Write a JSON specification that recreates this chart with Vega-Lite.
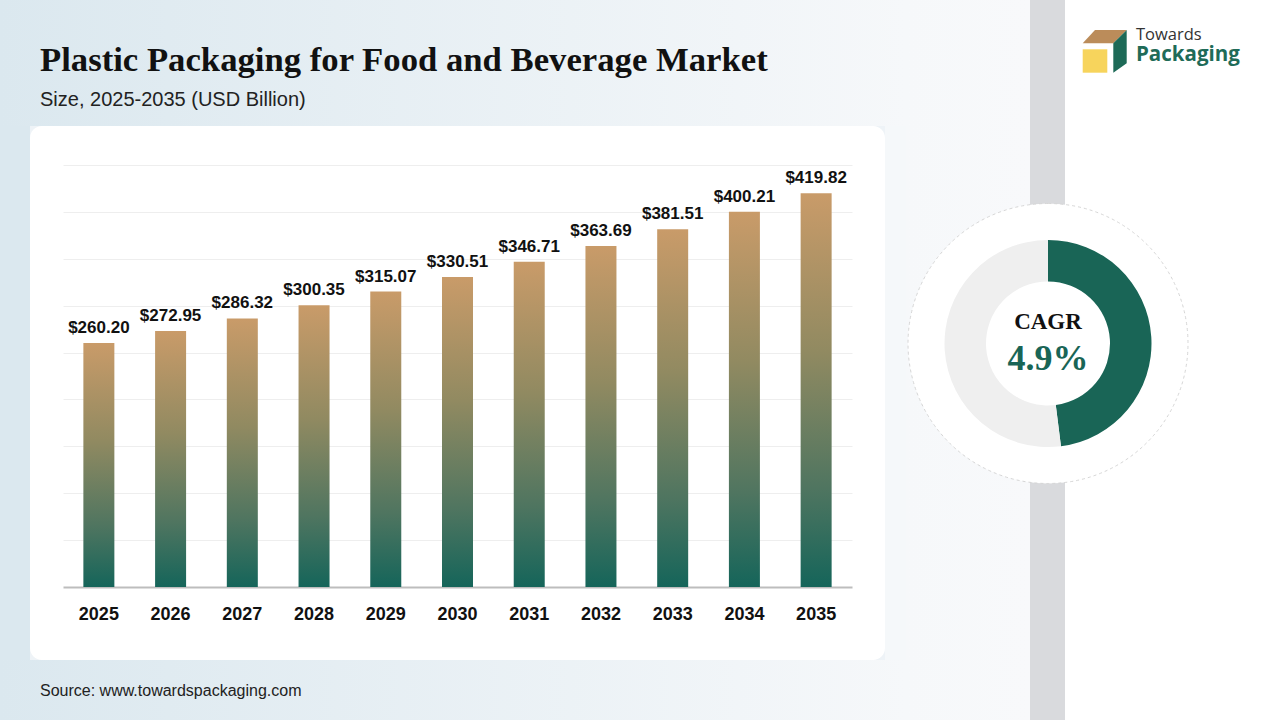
{
  "$schema": "https://vega.github.io/schema/vega-lite/v6.json",
  "background": "#eef3f7",
  "padding": 0,
  "spacing": 0,
  "config": {"view": {"stroke": null}},
  "hconcat": [
    {
      "vconcat": [
        {
          "width": 906,
          "height": 126,
          "view": {
            "stroke": null,
            "fill": {
              "gradient": "linear",
              "x1": 0, "y1": 0, "x2": 1, "y2": 0,
              "stops": [
                {"offset": 0, "color": "#dbe8ef"},
                {"offset": 1, "color": "#f6f8fa"}
              ]
            }
          },
          "data": {"values": [{"title": "Plastic Packaging for Food and Beverage Market", "subtitle": "Size, 2025-2035 (USD Billion)"}]},
          "layer": [
            {
              "mark": {"type": "text", "align": "left", "baseline": "alphabetic", "dx": -413, "dy": 7.5, "font": "Liberation Serif", "fontSize": 34.7, "fontWeight": "bold", "color": "#111111"},
              "encoding": {"text": {"field": "title"}}
            },
            {
              "mark": {"type": "text", "align": "left", "baseline": "alphabetic", "dx": -413, "dy": 43, "font": "Liberation Sans", "fontSize": 20, "color": "#222222"},
              "encoding": {"text": {"field": "subtitle"}}
            }
          ]
        },
        {
          "hconcat": [
            {
              "width": 30,
              "height": 534,
              "view": {"fill": "#dbe8ef", "stroke": null},
              "data": {"values": []},
              "mark": "point"
            },
            {
              "width": 855,
              "height": 534,
              "view": {"fill": "#ffffff", "stroke": null, "cornerRadius": 12},
              "data": {
                "values": [
                  {"year": "2025", "value": 260.20},
                  {"year": "2026", "value": 272.95},
                  {"year": "2027", "value": 286.32},
                  {"year": "2028", "value": 300.35},
                  {"year": "2029", "value": 315.07},
                  {"year": "2030", "value": 330.51},
                  {"year": "2031", "value": 346.71},
                  {"year": "2032", "value": 363.69},
                  {"year": "2033", "value": 381.51},
                  {"year": "2034", "value": 400.21},
                  {"year": "2035", "value": 419.82}
                ]
              },
              "encoding": {
                "x": {
                  "field": "year",
                  "type": "ordinal",
                  "scale": {"range": [33, 822], "paddingInner": 0, "paddingOuter": 0},
                  "axis": {
                    "title": null,
                    "offset": -73,
                    "domainColor": "#bdbdbd",
                    "domainWidth": 2,
                    "ticks": false,
                    "tickSize": 0,
                    "labelPadding": 18,
                    "labelFont": "Liberation Sans",
                    "labelFontSize": 18,
                    "labelFontWeight": "bold",
                    "labelColor": "#111111",
                    "labelAngle": 0,
                    "grid": false
                  }
                },
                "y": {
                  "field": "value",
                  "type": "quantitative",
                  "scale": {"domain": [0, 450], "range": [461, 39], "nice": false},
                  "axis": {
                    "values": [50, 100, 150, 200, 250, 300, 350, 400, 450],
                    "grid": true,
                    "gridColor": "#eeeeee",
                    "gridWidth": 1,
                    "domain": false,
                    "ticks": false,
                    "labels": false,
                    "title": null
                  }
                }
              },
              "layer": [
                {
                  "mark": {
                    "type": "bar",
                    "size": 31,
                    "color": {
                      "gradient": "linear",
                      "x1": 0, "y1": 0, "x2": 0, "y2": 1,
                      "stops": [
                        {"offset": 0, "color": "#c99b69"},
                        {"offset": 0.4, "color": "#918a61"},
                        {"offset": 0.75, "color": "#4f7560"},
                        {"offset": 1, "color": "#15655a"}
                      ]
                    }
                  }
                },
                {
                  "mark": {
                    "type": "text",
                    "dy": -10,
                    "baseline": "alphabetic",
                    "font": "Liberation Sans",
                    "fontSize": 17,
                    "fontWeight": "bold",
                    "color": "#111111"
                  },
                  "encoding": {"text": {"field": "value", "type": "quantitative", "format": "$,.2f"}}
                }
              ]
            },
            {
              "width": 21,
              "height": 534,
              "view": {"fill": "#f5f8fa", "stroke": null},
              "data": {"values": []},
              "mark": "point"
            }
          ],
          "spacing": 0
        },
        {
          "width": 906,
          "height": 60,
          "view": {
            "stroke": null,
            "fill": {
              "gradient": "linear",
              "x1": 0, "y1": 0, "x2": 1, "y2": 0,
              "stops": [
                {"offset": 0, "color": "#dbe8ef"},
                {"offset": 1, "color": "#f6f8fa"}
              ]
            }
          },
          "data": {"values": [{"source": "Source: www.towardspackaging.com"}]},
          "mark": {"type": "text", "align": "left", "baseline": "alphabetic", "dx": -413, "dy": 5.7, "font": "Liberation Sans", "fontSize": 16, "color": "#222222"},
          "encoding": {"text": {"field": "source"}}
        }
      ],
      "spacing": 0
    },
    {
      "vconcat": [
        {
          "width": 374,
          "height": 92,
          "view": {
            "stroke": null,
            "fill": {
              "gradient": "linear",
              "x1": 0, "y1": 0, "x2": 1, "y2": 0,
              "stops": [
                {"offset": 0, "color": "#f6f8fa"},
                {"offset": 0.3316, "color": "#f8f9fb"},
                {"offset": 0.3316, "color": "#d9dadd"},
                {"offset": 0.4251, "color": "#d9dadd"},
                {"offset": 0.4251, "color": "#ffffff"},
                {"offset": 1, "color": "#ffffff"}
              ]
            }
          },
          "data": {"values": [{"brand1": "Towards", "brand2": "Packaging"}]},
          "layer": [
            {"mark": {"type": "point", "shape": "M2,-16L33.7,-16L20.3,-2.7L-10.3,-2.7Z", "size": 4, "filled": true, "fill": "#bb8c5a", "opacity": 1, "strokeWidth": 0}},
            {"mark": {"type": "point", "shape": "M-10.3,3.3L14.3,3.3L14.3,26.7L-10.3,26.7Z", "size": 4, "filled": true, "fill": "#f7d45c", "opacity": 1, "strokeWidth": 0}},
            {"mark": {"type": "point", "shape": "M20.3,-2.7L33.7,-16L33.7,17.3L20.3,26.7Z", "size": 4, "filled": true, "fill": "#1d6a57", "opacity": 1, "strokeWidth": 0}},
            {
              "mark": {"type": "text", "align": "left", "baseline": "alphabetic", "dx": 43, "dy": -6, "font": "Open Sans", "fontSize": 16.5, "color": "#333333"},
              "encoding": {"text": {"field": "brand1"}}
            },
            {
              "mark": {"type": "text", "align": "left", "baseline": "alphabetic", "dx": 43, "dy": 15.2, "font": "Open Sans", "fontSize": 20.5, "fontWeight": "bold", "color": "#1f6b58"},
              "encoding": {"text": {"field": "brand2"}}
            }
          ]
        },
        {
          "hconcat": [
            {
              "width": 284,
              "height": 503,
              "view": {
                "stroke": null,
                "fill": {
                  "gradient": "linear",
                  "x1": 0, "y1": 0, "x2": 1, "y2": 0,
                  "stops": [
                    {"offset": 0, "color": "#f6f8fa"},
                    {"offset": 0.4366, "color": "#f8f9fb"},
                    {"offset": 0.4366, "color": "#d9dadd"},
                    {"offset": 0.5599, "color": "#d9dadd"},
                    {"offset": 0.5599, "color": "#ffffff"},
                    {"offset": 1, "color": "#ffffff"}
                  ]
                }
              },
              "layer": [
                {
                  "data": {"values": [{"part": "Outer ring", "share": 1}]},
                  "mark": {"type": "arc", "outerRadius": 140, "fill": "#ffffff", "stroke": "#d6d6d6", "strokeDash": [3, 3], "strokeWidth": 1},
                  "encoding": {"theta": {"field": "share", "type": "quantitative"}}
                },
                {
                  "data": {"values": [{"part": "CAGR", "share": 0.48}, {"part": "Remaining", "share": 0.52}]},
                  "mark": {"type": "arc", "innerRadius": 62, "outerRadius": 103.5},
                  "encoding": {
                    "theta": {"field": "share", "type": "quantitative", "stack": true},
                    "color": {"field": "part", "type": "nominal", "scale": {"domain": ["CAGR", "Remaining"], "range": ["#196556", "#efefef"]}, "legend": null},
                    "order": {"field": "part", "type": "nominal"}
                  }
                },
                {
                  "data": {"values": [{"label": "CAGR", "rate": "4.9%"}]},
                  "layer": [
                    {
                      "mark": {"type": "text", "baseline": "middle", "align": "center", "dy": -22, "font": "Liberation Serif", "fontSize": 23, "fontWeight": "bold", "color": "#111111"},
                      "encoding": {"text": {"field": "label"}}
                    },
                    {
                      "mark": {"type": "text", "baseline": "middle", "align": "center", "dy": 15, "font": "Liberation Serif", "fontSize": 36, "fontWeight": "bold", "color": "#196556"},
                      "encoding": {"text": {"field": "rate"}}
                    }
                  ]
                }
              ],
              "resolve": {"scale": {"theta": "independent"}}
            },
            {
              "width": 90,
              "height": 503,
              "view": {"fill": "#ffffff", "stroke": null},
              "data": {"values": []},
              "mark": "point"
            }
          ],
          "spacing": 0
        },
        {
          "width": 374,
          "height": 125,
          "view": {
            "stroke": null,
            "fill": {
              "gradient": "linear",
              "x1": 0, "y1": 0, "x2": 1, "y2": 0,
              "stops": [
                {"offset": 0, "color": "#f6f8fa"},
                {"offset": 0.3316, "color": "#f8f9fb"},
                {"offset": 0.3316, "color": "#d9dadd"},
                {"offset": 0.4251, "color": "#d9dadd"},
                {"offset": 0.4251, "color": "#ffffff"},
                {"offset": 1, "color": "#ffffff"}
              ]
            }
          },
          "data": {"values": []},
          "mark": "point"
        }
      ],
      "spacing": 0
    }
  ]
}
